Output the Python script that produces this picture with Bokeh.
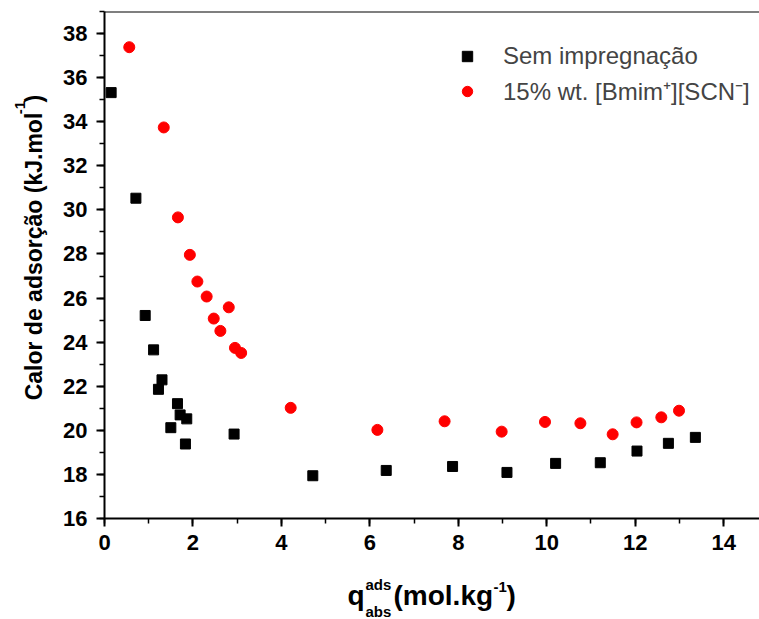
import math
from bokeh.plotting import figure
from bokeh.layouts import row, column
from bokeh.models import Range1d, SingleIntervalTicker, Span, Legend, LegendItem
from bokeh.core.properties import value
from bokeh.embed import file_html
from bokeh.resources import INLINE

# ---- data ----
x_black = [0.15, 0.71, 0.92, 1.11, 1.30, 1.22, 1.65, 1.71, 1.86, 1.50, 1.83, 2.93,
           4.71, 6.37, 7.87, 9.10, 10.20, 11.21, 12.04, 12.75, 13.36]
y_black = [35.32, 30.53, 25.21, 23.65, 22.29, 21.86, 21.21, 20.70, 20.52, 20.12, 19.38, 19.83,
           17.94, 18.18, 18.36, 18.09, 18.50, 18.53, 19.06, 19.41, 19.68]
x_red = [0.56, 1.34, 1.66, 1.93, 2.10, 2.31, 2.81, 2.47, 2.62, 2.95, 3.09, 4.21,
         6.17, 7.69, 8.98, 9.96, 10.76, 11.49, 12.03, 12.59, 12.99]
y_red = [37.38, 33.74, 29.66, 27.96, 26.75, 26.07, 25.58, 25.07, 24.51, 23.74, 23.51, 21.02,
         20.02, 20.41, 19.94, 20.38, 20.32, 19.82, 20.36, 20.59, 20.89]
name_black = "Sem impregnação"
name_red = "15% wt. [Bmim⁺][SCN⁻]"
ylabel_main = "Calor de adsorção (kJ.mol"
xlabel_main = "(mol.kg"

FONT = "Liberation Sans"
W, H = 759, 619
LW = 50        # width of the y-label strip
MH = 562       # height of the main plot
SHIFT = 0.38   # empirical baseline correction (fraction of font size)

# ---- main plot ----
p = figure(width=W - LW, height=MH, output_backend="svg", toolbar_location=None,
           x_range=Range1d(0, 14.81), y_range=Range1d(16, 39),
           min_border_left=104 - LW, min_border_right=0, min_border_top=11,
           min_border_bottom=MH - 518)
p.outline_line_color = None
p.grid.visible = False

r_black = p.scatter(x_black, y_black, marker="square", size=10, color="black")
r_red = p.scatter(x_red, y_red, marker="circle", size=11, color="#ff0000")

p.xaxis.ticker = SingleIntervalTicker(interval=2, num_minor_ticks=2)
p.yaxis.ticker = SingleIntervalTicker(interval=2, num_minor_ticks=2)
for ax in (p.xaxis[0], p.yaxis[0]):
    ax.axis_line_width = 2
    ax.axis_line_color = "black"
    ax.major_tick_line_width = 2
    ax.major_tick_line_color = "black"
    ax.minor_tick_line_width = 1.5
    ax.minor_tick_line_color = "black"
    ax.major_tick_in = 0
    ax.major_tick_out = 8
    ax.minor_tick_in = 0
    ax.minor_tick_out = 5
    ax.major_label_text_font = FONT
    ax.major_label_text_font_style = "bold"
    ax.major_label_text_font_size = "22px"
    ax.major_label_text_color = "black"
p.yaxis.major_label_standoff = 9
p.xaxis.major_label_standoff = 8

p.add_layout(Span(location=39, dimension="width", line_color="black", line_width=2))

legend = Legend(items=[LegendItem(label=name_black, renderers=[r_black]),
                       LegendItem(label=name_red, renderers=[r_red])],
                location=(350, 411), padding=0, margin=0, spacing=4,
                glyph_width=26, glyph_height=26, label_standoff=23,
                label_text_font=FONT, label_text_font_size="24px",
                border_line_color=None, background_fill_alpha=0)
p.add_layout(legend)


def strip(width, height, y0, y1):
    f = figure(width=width, height=height, output_backend="svg", toolbar_location=None,
               x_range=Range1d(0, width), y_range=Range1d(y1, y0),
               min_border=0, x_axis_type=None, y_axis_type=None)
    f.outline_line_color = None
    f.grid.visible = False
    return f


def txt(f, x, y, s, size, angle=0.0):
    # (x, y) is the intended baseline start in page pixels
    off = SHIFT * size
    if angle:
        x = x - off
    else:
        y = y - off
    f.text(x=[x], y=[y], text=[s], angle=angle, text_font=value(FONT),
           text_font_style="bold", text_font_size=value(f"{size}px"), text_color="black",
           text_align="left", text_baseline="alphabetic")


# ---- y label strip (coordinates = page pixels) ----
yf = strip(LW, MH, 0, MH)
txt(yf, 42, 431, ylabel_main, 23, math.pi / 2)
txt(yf, 25, 114, "-1", 15, math.pi / 2)
txt(yf, 42, 101, ")", 23, math.pi / 2)

# ---- x label strip (coordinates = page pixels) ----
xf = strip(W, H - MH, MH, H)
txt(xf, 347, 606, "q", 28)
txt(xf, 365, 590, "ads", 15)
txt(xf, 365, 617, "abs", 15)
txt(xf, 393, 606, xlabel_main, 28)
txt(xf, 493, 592, "-1", 15)
txt(xf, 506, 606, ")", 28)

layout = column(row(yf, p, spacing=0), xf, spacing=0)
open("out.html", "w").write(file_html(layout, INLINE))
